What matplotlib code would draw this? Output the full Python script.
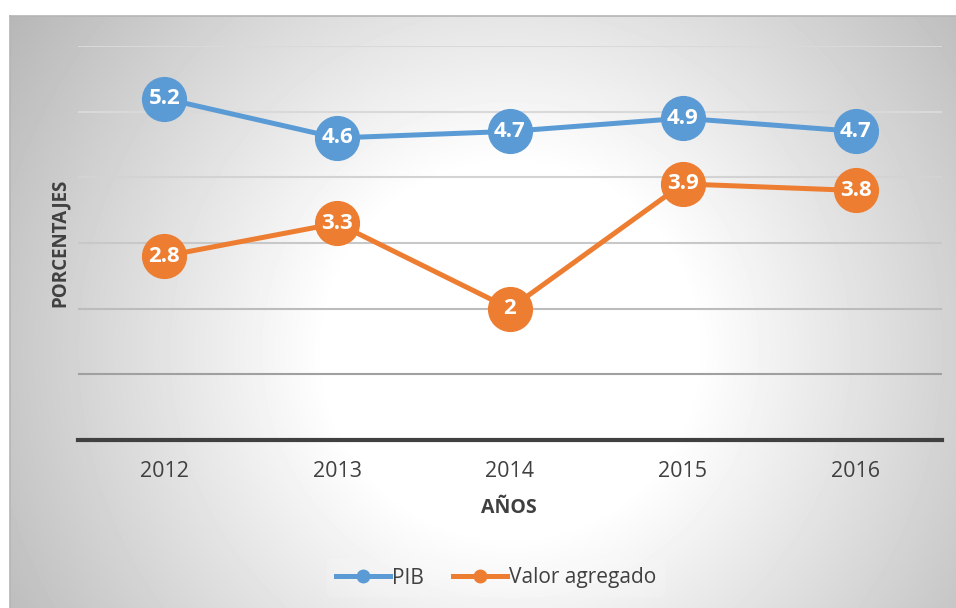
import matplotlib.pyplot as plt
import numpy as np

plt.rcParams['font.family'] = ['Open Sans', 'DejaVu Sans']

years = ['2012', '2013', '2014', '2015', '2016']
pib = [5.2, 4.6, 4.7, 4.9, 4.7]
valor_agregado = [2.8, 3.3, 2.0, 3.9, 3.8]
pib_labels = ['5.2', '4.6', '4.7', '4.9', '4.7']
va_labels = ['2.8', '3.3', '2', '3.9', '3.8']
grid_levels = [1, 2, 3, 4, 5, 6]

W, H = 956, 608
fig = plt.figure(figsize=(W / 100, H / 100), dpi=100)

# radial background: white centre, grey toward the edges
bg = fig.add_axes([10 / W, 0, (W - 10) / W, (H - 16) / H], zorder=-10)
yy, xx = np.mgrid[16:H, 10:W].astype(float)
dist = np.hypot(xx - 510, yy - 350)
v = np.clip(255 - 0.174 * np.clip(dist - 185, 0, None), 0, 255) / 255
bg.imshow(v, cmap='gray', vmin=0, vmax=1, aspect='auto', interpolation='bilinear')
bg.set_xticks([])
bg.set_yticks([])
for s in ['right', 'bottom']:
    bg.spines[s].set_visible(False)
for s in ['left', 'top']:
    bg.spines[s].set_color('#b5b5b5')
    bg.spines[s].set_linewidth(1.2)

ax = fig.add_axes([78 / W, (H - 440) / H, (942 - 78) / W, (440 - 46) / H])
ax.patch.set_alpha(0)
x = np.arange(len(years))

grid_colors = ['#a0a0a0', '#bcbcbc', '#c8c8c8', '#d3d3d3', '#d9d9d9', '#d9d9d9']
for g, c in zip(grid_levels, grid_colors):
    ax.axhline(g, color=c, lw=1.5, zorder=1)

ax.plot(x, pib, color='#5B9BD5', lw=3.6, marker='o', ms=31.5, label='PIB', zorder=3)
ax.plot(x, valor_agregado, color='#ED7D31', lw=3.6, marker='o', ms=31.5,
        label='Valor agregado', zorder=3)

for xi, v_, t in zip(x, pib, pib_labels):
    ax.text(xi, v_, t, color='white', fontweight='bold', fontsize=16,
            ha='center', va='center', zorder=4)
for xi, v_, t in zip(x, valor_agregado, va_labels):
    ax.text(xi, v_, t, color='white', fontweight='bold', fontsize=16,
            ha='center', va='center', zorder=4)

ax.set_xlim(-0.5, 4.5)
ax.set_ylim(0, 6)
ax.set_yticks([])
ax.set_xticks(x)
ax.set_xticklabels(years, fontsize=15.5, color='#404040')
ax.tick_params(axis='x', length=0, pad=15)
for s in ['left', 'right', 'top']:
    ax.spines[s].set_visible(False)
ax.spines['bottom'].set_color('#404040')
ax.spines['bottom'].set_linewidth(3)

fig.text(509 / W, 1 - 508 / H, 'AÑOS', fontsize=14, fontweight='bold',
         color='#404040', ha='center', va='center')
fig.text(60 / W, 1 - 243 / H, 'PORCENTAJES', fontsize=13.5, fontweight='bold',
         color='#404040', ha='center', va='center', rotation=90)

handles = [plt.Line2D([], [], color='#5B9BD5', lw=3.6, marker='o', ms=9),
           plt.Line2D([], [], color='#ED7D31', lw=3.6, marker='o', ms=9)]
leg = fig.legend(handles, ['PIB', 'Valor agregado'], loc='center',
                 bbox_to_anchor=(496 / W, 1 - 578 / H), ncol=2, fontsize=15,
                 frameon=True, handlelength=2.6, handletextpad=0.1,
                 columnspacing=1.4, borderpad=0.4)
leg.get_frame().set_facecolor('white')
leg.get_frame().set_alpha(0.15)
leg.get_frame().set_edgecolor('none')
for t in leg.get_texts():
    t.set_color('#404040')

fig.savefig('out.png', dpi=100)
